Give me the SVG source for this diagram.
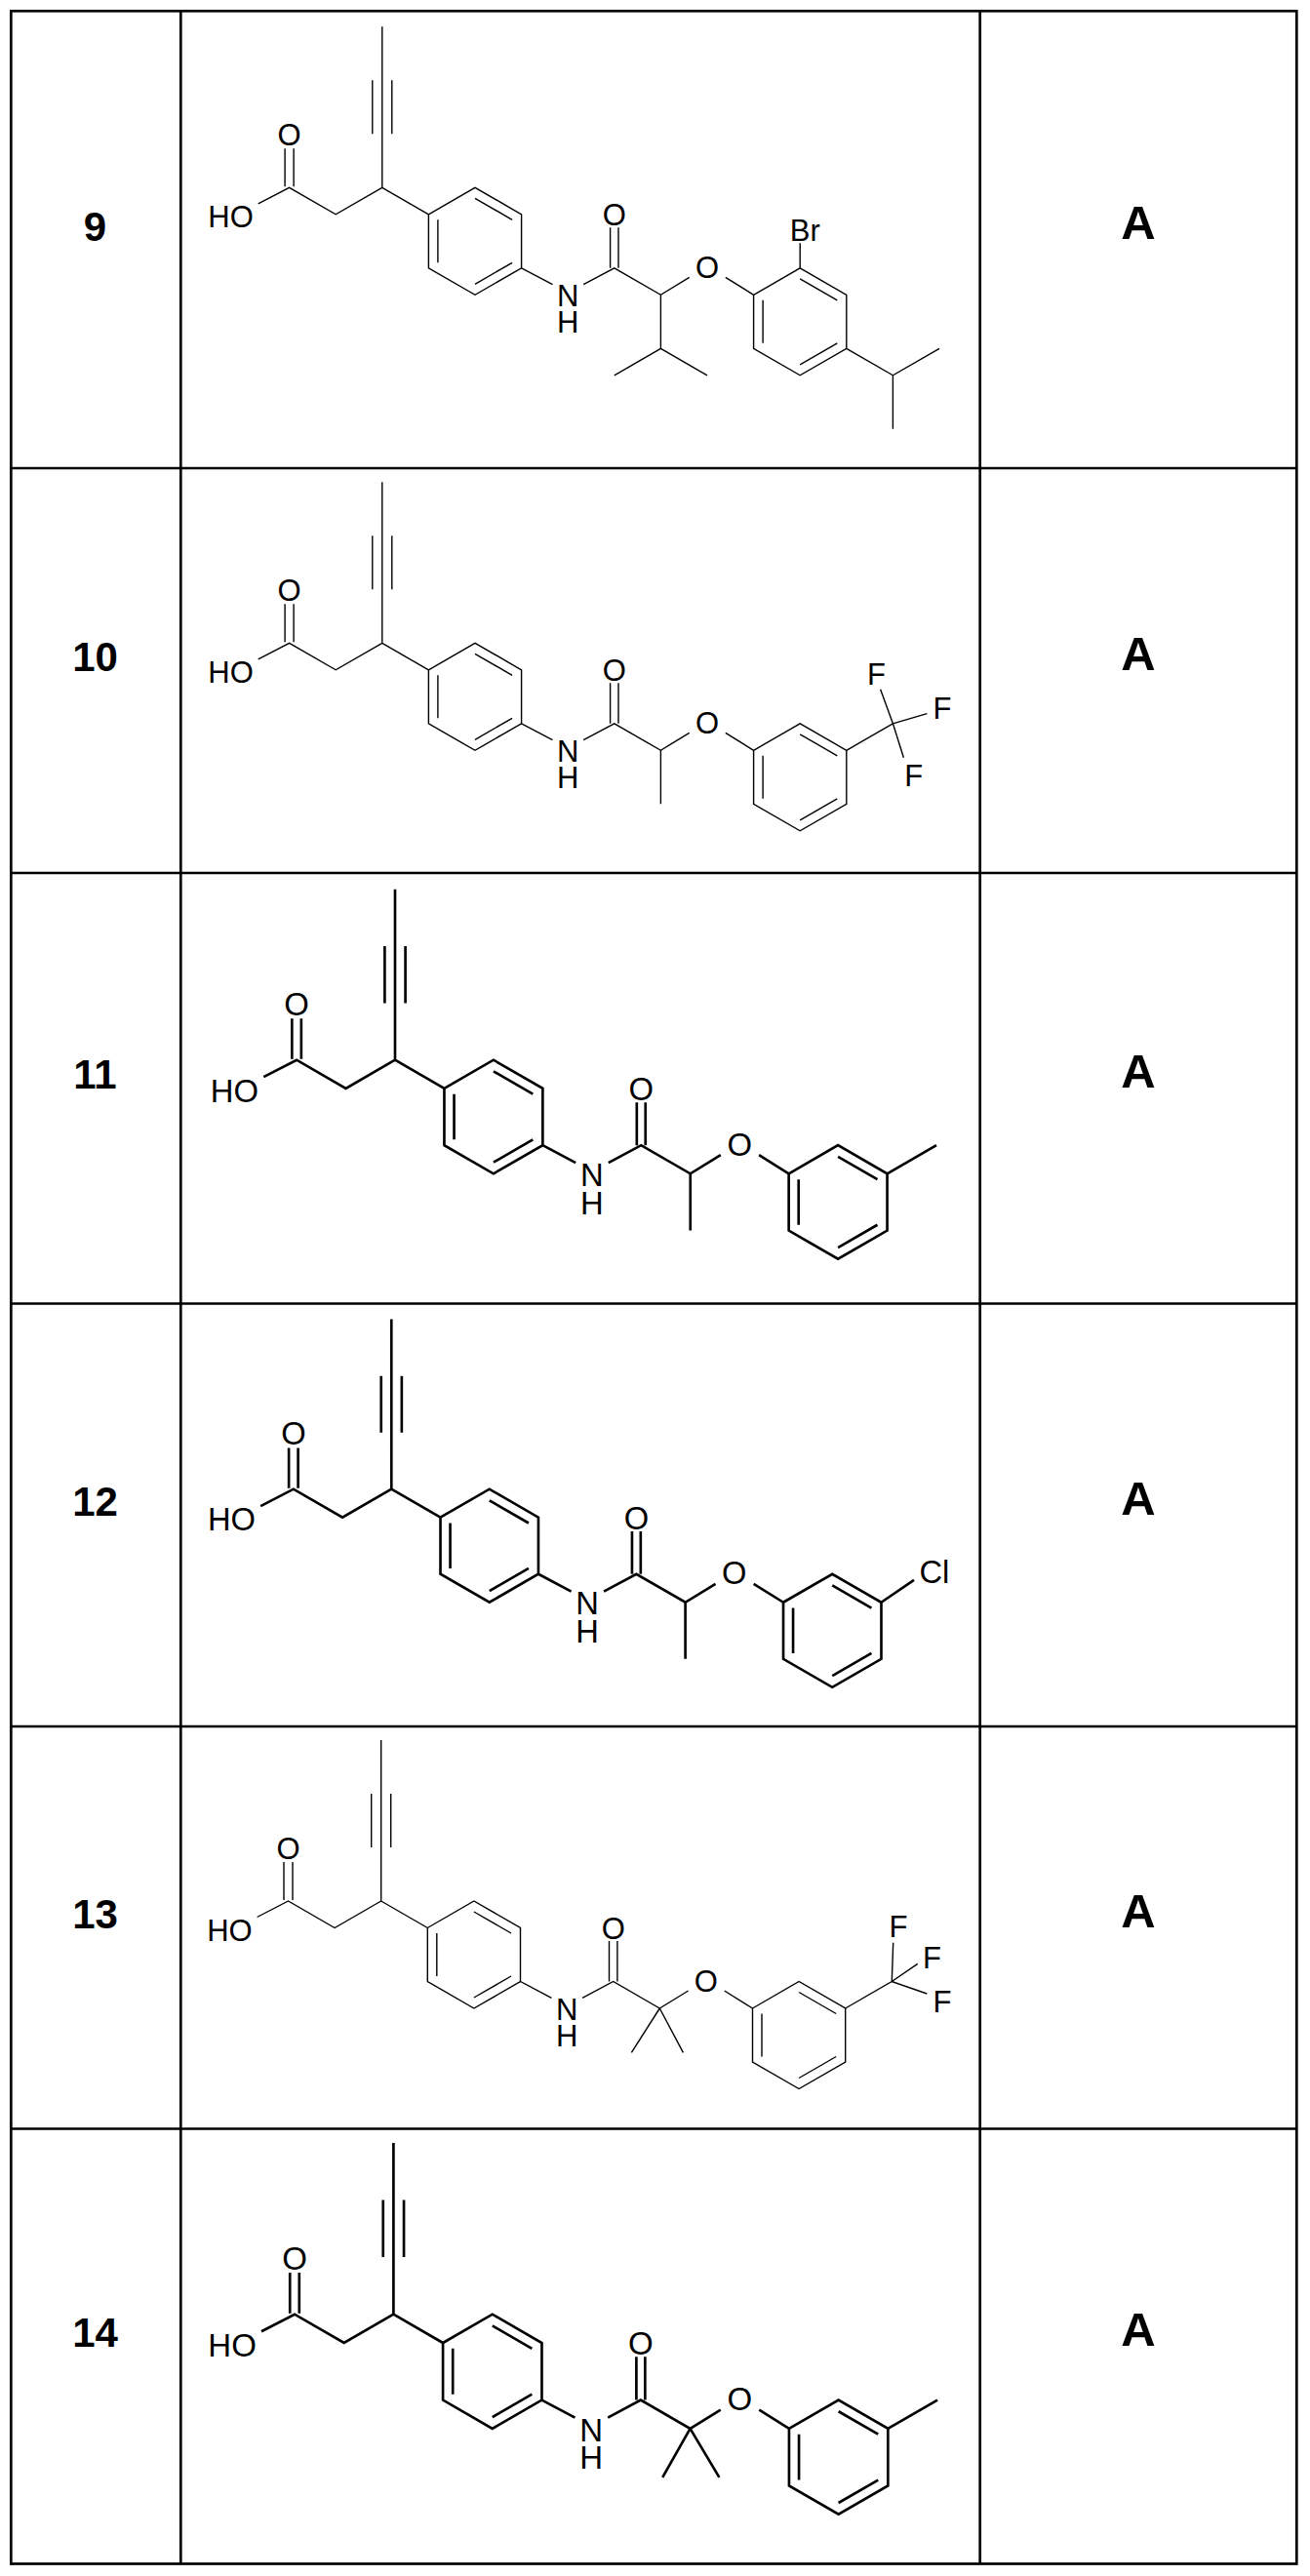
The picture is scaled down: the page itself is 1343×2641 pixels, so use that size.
<svg xmlns="http://www.w3.org/2000/svg" width="1343" height="2641" viewBox="0 0 1343 2641">
<style>
.grid{stroke:#000;stroke-width:2.7;fill:none}
.b{fill:none;stroke:#000;stroke-linecap:butt;stroke-linejoin:miter}
.thin{stroke-width:1.4}
.thick{stroke-width:2.5}
.t{font-family:"Liberation Sans",Arial,sans-serif;font-size:31px;fill:#000}
.m{text-anchor:middle}
.e{text-anchor:end}
.num{font-family:"Liberation Sans",Arial,sans-serif;font-weight:bold;font-size:42px;text-anchor:middle;fill:#000}
.act{font-family:"Liberation Sans",Arial,sans-serif;font-weight:bold;font-size:49px;text-anchor:middle;fill:#000}
</style>
<rect width="1343" height="2641" fill="#fff"/>
<g id="table" class="grid">
<rect x="11.3" y="11.3" width="1318" height="2617.2"/>
<line x1="185.3" y1="11.3" x2="185.3" y2="2628.5"/>
<line x1="1004.7" y1="11.3" x2="1004.7" y2="2628.5"/>
<line x1="11.3" y1="480" x2="1329.3" y2="480"/>
<line x1="11.3" y1="895" x2="1329.3" y2="895"/>
<line x1="11.3" y1="1336.5" x2="1329.3" y2="1336.5"/>
<line x1="11.3" y1="1770" x2="1329.3" y2="1770"/>
<line x1="11.3" y1="2182.5" x2="1329.3" y2="2182.5"/>
</g>
<g id="labels">
<text class="num" x="97.5" y="247">9</text>
<text class="num" x="97.5" y="688">10</text>
<text class="num" x="97.5" y="1116">11</text>
<text class="num" x="97.5" y="1554">12</text>
<text class="num" x="97.5" y="1977">13</text>
<text class="num" x="97.5" y="2406">14</text>
<text class="act" x="1167" y="245">A</text>
<text class="act" x="1167" y="687">A</text>
<text class="act" x="1167" y="1115">A</text>
<text class="act" x="1167" y="1553">A</text>
<text class="act" x="1167" y="1976">A</text>
<text class="act" x="1167" y="2405">A</text>
</g>

<g id="mol9" transform="translate(391.8,192.3)">
<path class="b thin" d="M0,-165V0M-10,-110V-55M10,-110V-55M0,0L-47.6,27.5L-95.2,0L-127.1,16.5M-99.7,-1V-40M-90.7,-1V-40M0,0L47.6,27.5M47.6,27.5L95.2,0L142.8,27.5L142.8,82.5L95.2,110L47.6,82.5ZM95.2,11L133.3,33M133.3,77L95.2,99M57.1,77L57.1,33M142.8,82.5L174.7,99.4M206.4,99.4L238,82.5L285.6,110L314.9,92M233.8,82.5V41M242.2,82.5V41M352,92L380.8,110M380.8,110L428.4,82.5L476,110L476,165L428.4,192.5L380.8,165ZM428.4,93.5L466.5,115.5M466.5,159.5L428.4,181.5M390.3,159.5L390.3,115.5"/>
<path class="b thin" d="M285.6,110V165M238,192.5L285.6,165L333.2,192.5M428.4,82.5V57M476,165L523.6,192.5L571.2,165M523.6,192.5V247.5"/>
<text class="t m" x="-95.2" y="-43">O</text><text class="t e" x="-132" y="40.5">HO</text>
<text class="t m"><tspan x="190.4" y="122">N</tspan><tspan x="190.4" y="149">H</tspan></text>
<text class="t m" x="238" y="39">O</text><text class="t m" x="333.2" y="92.5">O</text>
<text class="t" x="418" y="55">Br</text>
</g>

<g id="mol10" transform="translate(391.8,659.3)">
<path class="b thin" d="M0,-165V0M-10,-110V-55M10,-110V-55M0,0L-47.6,27.5L-95.2,0L-127.1,16.5M-99.7,-1V-40M-90.7,-1V-40M0,0L47.6,27.5M47.6,27.5L95.2,0L142.8,27.5L142.8,82.5L95.2,110L47.6,82.5ZM95.2,11L133.3,33M133.3,77L95.2,99M57.1,77L57.1,33M142.8,82.5L174.7,99.4M206.4,99.4L238,82.5L285.6,110L314.9,92M233.8,82.5V41M242.2,82.5V41M352,92L380.8,110M380.8,110L428.4,82.5L476,110L476,165L428.4,192.5L380.8,165ZM428.4,93.5L466.5,115.5M466.5,159.5L428.4,181.5M390.3,159.5L390.3,115.5"/>
<path class="b thin" d="M285.6,110V165M476,110L523.6,82.5M523.6,82.5L510.8,47.4M523.6,82.5L558.5,72.4M523.6,82.5L534.6,117.4"/>
<text class="t m" x="-95.2" y="-43">O</text><text class="t e" x="-132" y="40.5">HO</text>
<text class="t m"><tspan x="190.4" y="122">N</tspan><tspan x="190.4" y="149">H</tspan></text>
<text class="t m" x="238" y="39">O</text><text class="t m" x="333.2" y="92.5">O</text>
<text class="t m" x="506.7" y="43">F</text><text class="t m" x="574.2" y="78">F</text><text class="t m" x="545" y="147">F</text>
</g>

<g id="mol11" transform="translate(405,1086.7) scale(1.06)">
<path class="b thick" d="M0,-165V0M-10,-110V-55M10,-110V-55M0,0L-47.6,27.5L-95.2,0L-127.1,16.5M-99.7,-1V-40M-90.7,-1V-40M0,0L47.6,27.5M47.6,27.5L95.2,0L142.8,27.5L142.8,82.5L95.2,110L47.6,82.5ZM95.2,11L133.3,33M133.3,77L95.2,99M57.1,77L57.1,33M142.8,82.5L174.7,99.4M206.4,99.4L238,82.5L285.6,110L314.9,92M233.8,82.5V41M242.2,82.5V41M352,92L380.8,110M380.8,110L428.4,82.5L476,110L476,165L428.4,192.5L380.8,165ZM428.4,93.5L466.5,115.5M466.5,159.5L428.4,181.5M390.3,159.5L390.3,115.5"/>
<path class="b thick" d="M285.6,110V165M476,110L523.6,82.5"/>
<text class="t m" x="-95.2" y="-43">O</text><text class="t e" x="-132" y="40.5">HO</text>
<text class="t m"><tspan x="190.4" y="122">N</tspan><tspan x="190.4" y="149">H</tspan></text>
<text class="t m" x="238" y="39">O</text><text class="t m" x="333.2" y="92.5">O</text>
</g>

<g id="mol12" transform="translate(401.3,1526.7) scale(1.055)">
<path class="b thick" d="M0,-165V0M-10,-110V-55M10,-110V-55M0,0L-47.6,27.5L-95.2,0L-127.1,16.5M-99.7,-1V-40M-90.7,-1V-40M0,0L47.6,27.5M47.6,27.5L95.2,0L142.8,27.5L142.8,82.5L95.2,110L47.6,82.5ZM95.2,11L133.3,33M133.3,77L95.2,99M57.1,77L57.1,33M142.8,82.5L174.7,99.4M206.4,99.4L238,82.5L285.6,110L314.9,92M233.8,82.5V41M242.2,82.5V41M352,92L380.8,110M380.8,110L428.4,82.5L476,110L476,165L428.4,192.5L380.8,165ZM428.4,93.5L466.5,115.5M466.5,159.5L428.4,181.5M390.3,159.5L390.3,115.5"/>
<path class="b thick" d="M285.6,110V165M476,110L507.8,88.4"/>
<text class="t m" x="-95.2" y="-43">O</text><text class="t e" x="-132" y="40.5">HO</text>
<text class="t m"><tspan x="190.4" y="122">N</tspan><tspan x="190.4" y="149">H</tspan></text>
<text class="t m" x="238" y="39">O</text><text class="t m" x="333.2" y="92.5">O</text>
<text class="t" x="513" y="91">Cl</text>
</g>

<g id="mol13" transform="translate(390.7,1949)">
<path class="b thin" d="M0,-165V0M-10,-110V-55M10,-110V-55M0,0L-47.6,27.5L-95.2,0L-127.1,16.5M-99.7,-1V-40M-90.7,-1V-40M0,0L47.6,27.5M47.6,27.5L95.2,0L142.8,27.5L142.8,82.5L95.2,110L47.6,82.5ZM95.2,11L133.3,33M133.3,77L95.2,99M57.1,77L57.1,33M142.8,82.5L174.7,99.4M206.4,99.4L238,82.5L285.6,110L314.9,92M233.8,82.5V41M242.2,82.5V41M352,92L380.8,110M380.8,110L428.4,82.5L476,110L476,165L428.4,192.5L380.8,165ZM428.4,93.5L466.5,115.5M466.5,159.5L428.4,181.5M390.3,159.5L390.3,115.5"/>
<path class="b thin" d="M285.6,110L256.7,155.3M285.6,110L309.7,155.3M476,110L523.6,82.5M523.6,82.5L525,42.7M523.6,82.5L550,64.3M523.6,82.5L559.6,95"/>
<text class="t m" x="-95.2" y="-43">O</text><text class="t e" x="-132" y="40.5">HO</text>
<text class="t m"><tspan x="190.4" y="122">N</tspan><tspan x="190.4" y="149">H</tspan></text>
<text class="t m" x="238" y="39">O</text><text class="t m" x="333.2" y="92.5">O</text>
<text class="t m" x="530.3" y="37">F</text><text class="t m" x="564.8" y="68.5">F</text><text class="t m" x="575.3" y="113.5">F</text>
</g>

<g id="mol14" transform="translate(403.4,2372.7) scale(1.065)">
<path class="b thick" d="M0,-165V0M-10,-110V-55M10,-110V-55M0,0L-47.6,27.5L-95.2,0L-127.1,16.5M-99.7,-1V-40M-90.7,-1V-40M0,0L47.6,27.5M47.6,27.5L95.2,0L142.8,27.5L142.8,82.5L95.2,110L47.6,82.5ZM95.2,11L133.3,33M133.3,77L95.2,99M57.1,77L57.1,33M142.8,82.5L174.7,99.4M206.4,99.4L238,82.5L285.6,110L314.9,92M233.8,82.5V41M242.2,82.5V41M352,92L380.8,110M380.8,110L428.4,82.5L476,110L476,165L428.4,192.5L380.8,165ZM428.4,93.5L466.5,115.5M466.5,159.5L428.4,181.5M390.3,159.5L390.3,115.5"/>
<path class="b thick" d="M285.6,110L259,157M285.6,110L313.6,157M476,110L523.6,82.5"/>
<text class="t m" x="-95.2" y="-43">O</text><text class="t e" x="-132" y="40.5">HO</text>
<text class="t m"><tspan x="190.4" y="122">N</tspan><tspan x="190.4" y="149">H</tspan></text>
<text class="t m" x="238" y="39">O</text><text class="t m" x="333.2" y="92.5">O</text>
</g>
</svg>
